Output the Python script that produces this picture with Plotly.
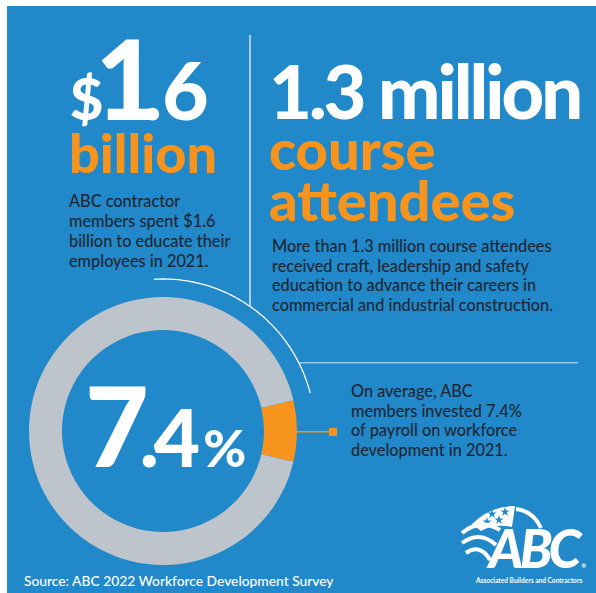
import math
import plotly.graph_objects as go

W, H = 596, 593

# ---- data ----
slice_labels = ["Invested in workforce development", "Rest of payroll"]
slice_values = [7.4, 92.6]
slice_colors = ["#F7941D", "#BEC4CB"]

headline_left_value = ["$", "1", ".", "6"]
headline_left_unit = "billion"
headline_right_value = "1.3 million"
headline_right_unit = ["course", "attendees"]
donut_value = ["7", ".", "4", "%"]

text_left = ["ABC contractor", "members spent $1.6", "billion to educate their", "employees in 2021."]
text_right = ["More than 1.3 million course attendees", "received craft, leadership and safety",
              "education to advance their careers in", "commercial and industrial construction."]
text_donut = ["On average, ABC", "members invested 7.4%", "of payroll on workforce", "development in 2021."]
source_text = "Source: ABC 2022 Workforce Development Survey"
logo_text = "ABC"
logo_caption = "Associated Builders and Contractors"

# ---- style ----
BLUE = "#2188C9"
ORANGE = "#F7941D"
DARK = "#1E2733"
WHITE = "#FFFFFF"
FONT = "Lato"
ASC, DESC = 0.987, 0.213  # Lato vertical metrics (em)


def X(px):
    return px / W


def Y(py):
    return 1 - py / H


cx, cy, R, R_IN = 163, 431, 134, 101

fig = go.Figure()
fig.add_trace(go.Pie(
    values=slice_values, labels=slice_labels,
    marker=dict(colors=slice_colors, line=dict(width=0)),
    hole=R_IN / R, sort=False, direction="clockwise",
    rotation=90 - slice_values[0] / sum(slice_values) * 180,
    textinfo="none", hoverinfo="label+percent", showlegend=False,
    domain=dict(x=[X(cx - R), X(cx + R)], y=[Y(cy + R), Y(cy - R)]),
))

# logo stars as markers on a hidden pixel-space axis pair
fig.add_trace(go.Scatter(x=[492, 505, 487, 499], y=[514, 512, 522, 520], mode="markers",
                         marker=dict(symbol="star", size=7, color=BLUE, line=dict(width=0)),
                         hoverinfo="skip", showlegend=False))

shapes = []
# blue panel
shapes.append(dict(type="rect", xref="paper", yref="paper", x0=X(7), x1=1, y0=0, y1=Y(6),
                   fillcolor=BLUE, line=dict(width=0), layer="below"))


def arc_path(acx, acy, r, a0, a1, n=80):
    pts = []
    for i in range(n + 1):
        a = math.radians(a0 + (a1 - a0) * i / n)
        pts.append((X(acx + r * math.sin(a)), Y(acy - r * math.cos(a))))
    return "M " + " L ".join(f"{x:.5f},{y:.5f}" for x, y in pts)


def pix_path(cmds):
    out = []
    for c, nums in cmds:
        if c == "Z":
            out.append("Z")
            continue
        pairs = [f"{X(nums[i]):.5f},{Y(nums[i + 1]):.5f}" for i in range(0, len(nums), 2)]
        out.append(c + " " + " ".join(pairs))
    return " ".join(out)


# thin white arc around donut
shapes.append(dict(type="path", xref="paper", yref="paper", path=arc_path(cx, cy, 152, -3.4, 75.6),
                   line=dict(color=WHITE, width=1.3)))
# vertical divider
shapes.append(dict(type="line", xref="paper", yref="paper", x0=X(250), x1=X(250), y0=Y(35), y1=Y(306),
                   line=dict(color="rgba(255,255,255,0.8)", width=1.5)))
# horizontal divider
shapes.append(dict(type="line", xref="paper", yref="paper", x0=X(299), x1=X(578), y0=Y(362.7), y1=Y(362.7),
                   line=dict(color="rgba(255,255,255,0.55)", width=1.5)))
# orange connector
shapes.append(dict(type="line", xref="paper", yref="paper", x0=X(cx + R), x1=X(332), y0=Y(431.7), y1=Y(431.7),
                   line=dict(color=ORANGE, width=1.5)))
shapes.append(dict(type="rect", xref="paper", yref="paper", x0=X(329), x1=X(337), y0=Y(436), y1=Y(428),
                   fillcolor=ORANGE, line=dict(width=0)))

# logo: flag canton and stripes
shapes.append(dict(type="path", xref="paper", yref="paper", layer="below",
                   path=pix_path([("M", [472, 524]), ("Q", [490, 506, 515, 506]), ("L", [512, 527]),
                                  ("Q", [494, 523, 481, 531]), ("Z", [])]),
                   fillcolor=WHITE, line=dict(width=0)))
for p in ([("M", [516, 509]), ("Q", [533, 511, 541, 528])],
          [("M", [462, 533]), ("Q", [480, 518, 500, 530])],
          [("M", [462, 543]), ("Q", [480, 530, 496, 545])],
          [("M", [466, 553]), ("Q", [480, 543, 490, 560])]):
    shapes.append(dict(type="path", xref="paper", yref="paper", path=pix_path(p),
                       line=dict(color=WHITE, width=4)))
fig.update_layout(shapes=shapes)


def span(s, size, ls=0, weight=None, italic=False, color=None):
    st = f"font-size:{size}px;letter-spacing:{ls}px"
    if weight is not None:
        st += f";font-weight:{weight}"
    if italic:
        st += ";font-style:italic"
    if color is not None:
        st += f";color:{color}"
    return f'<span style="{st}">{s}</span>'


def block(lines_html, x, first_baseline, step, top_size, bottom_size, color, weight,
          xanchor="left", align="left"):
    """Multi-line text whose line pitch is `step` px, positioned by its baselines."""
    base = step / 1.3 if len(lines_html) > 1 else top_size
    last_baseline = first_baseline + step * (len(lines_html) - 1)
    top = first_baseline - ASC * top_size
    bottom = last_baseline + DESC * bottom_size
    fig.add_annotation(text="<br>".join(lines_html), x=X(x), y=Y((top + bottom) / 2),
                       xref="paper", yref="paper", showarrow=False, xanchor=xanchor,
                       yanchor="middle", align=align, borderpad=0,
                       font=dict(family=FONT, size=base, color=color, weight=weight))


# $1.6 billion
line1 = (span(headline_left_value[0], 58, -8) + span(headline_left_value[1], 110, -16)
         + span(headline_left_value[2], 80, 0) + span(headline_left_value[3], 80, 8))
block([line1, span(headline_left_unit, 54, color=ORANGE)], 142.5, 120, 53, 110, 54,
      WHITE, 900, xanchor="center", align="center")

# 1.3 million course attendees
right_head = [span(headline_right_value, 74, -3),
              span(headline_right_unit[0], 56, color=ORANGE),
              span(headline_right_unit[1], 56, color=ORANGE)]
block(right_head, 268, 119, 51, 74, 56, WHITE, 900)

# 7.4%
block([span(donut_value[0], 110, -9) + span(donut_value[1], 80, -5) + span(donut_value[2], 80, 3)
       + span(donut_value[3], 52, 0)], 84, 467, 0, 110, 110, WHITE, 900)

# body texts
block([span(s, 16.3) for s in text_left], 68, 206.7, 20, 16.3, 16.3, DARK, 500)
block([span(s, 16.3) for s in text_right], 271, 252.5, 19.5, 16.3, 16.3, DARK, 500)
block([span(s, 16.3) for s in text_donut], 350, 397.3, 19.5, 16.3, 16.3, DARK, 500)
block([span(source_text, 13.8)], 23, 586, 0, 13.8, 13.8, WHITE, 500)

# logo
logo_line1 = (span(logo_text[:2], 53, -4, italic=True) + span(logo_text[2], 53, 0, italic=True)
              + span("®", 6, 0, weight=700))
logo_line2 = span(logo_caption[:-1], 6.6, 0, weight=700) + span(logo_caption[-1], 6.6, 4, weight=700)
block([logo_line1, logo_line2], 587, 568, 14.5, 53, 6.6, WHITE, 900, xanchor="right", align="right")

fig.update_layout(
    width=W, height=H, margin=dict(l=0, r=0, t=0, b=0),
    paper_bgcolor=WHITE, plot_bgcolor="rgba(0,0,0,0)",
    xaxis=dict(range=[0, W], visible=False, domain=[0, 1], fixedrange=True),
    yaxis=dict(range=[H, 0], visible=False, domain=[0, 1], fixedrange=True),
    showlegend=False,
)

fig.write_html("out.html", config={"displayModeBar": False},
               post_script="document.body.style.margin='0px';")
